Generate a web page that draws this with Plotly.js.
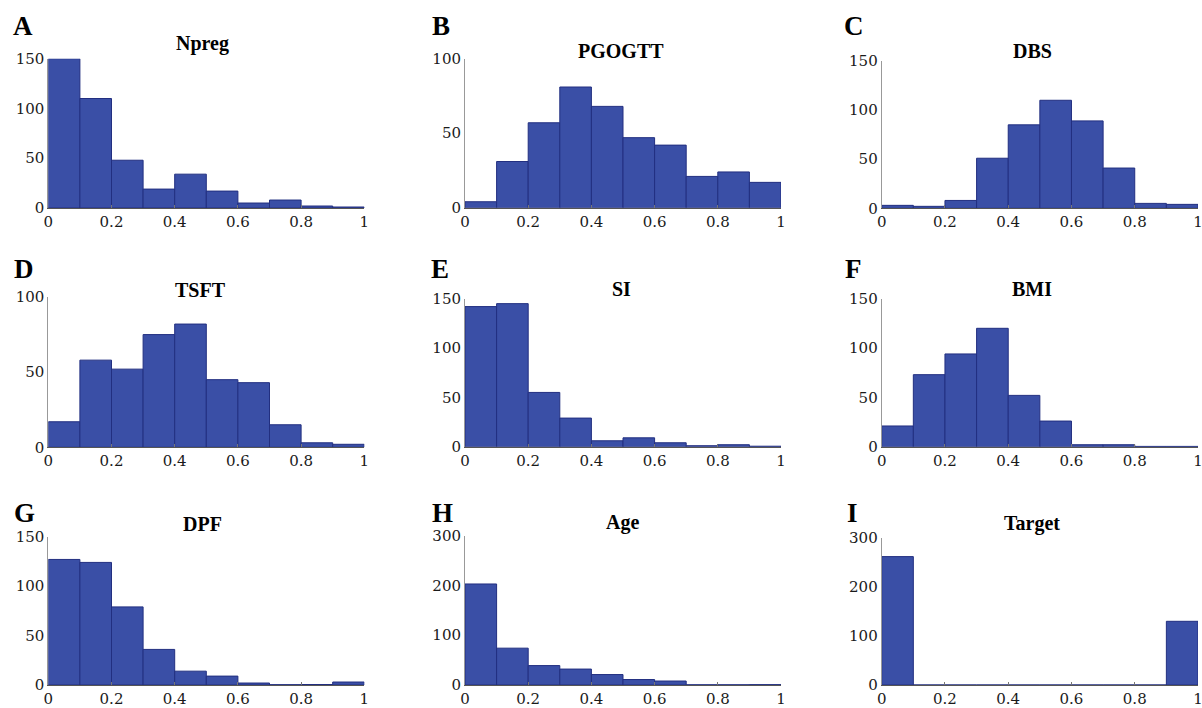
<!DOCTYPE html>
<html>
<head>
<meta charset="utf-8">
<script src="https://cdn.plot.ly/plotly-3.0.1.min.js"></script>
<style>html,body{margin:0;padding:0;background:#fff;}#chart{width:1202px;height:708px;}</style>
</head>
<body>
<div id="chart"></div>
<script>
// Bin centers (10 bins of width 0.1 on a normalised 0..1 scale)
const binCenters = [0.05, 0.15, 0.25, 0.35, 0.45, 0.55, 0.65, 0.75, 0.85, 0.95];
const xTickVals = [0, 0.2, 0.4, 0.6, 0.8, 1];
const xTickText = ["0", "0.2", "0.4", "0.6", "0.8", "1"];

const panelLetters = ["A", "B", "C", "D", "E", "F", "G", "H", "I"];
const panelTitles = ["Npreg", "PGOGTT", "DBS", "TSFT", "SI", "BMI", "DPF", "Age", "Target"];

const npreg  = [150, 110, 48, 19, 34, 17, 5, 8, 2, 1];
const pgogtt = [4, 31, 57, 81, 68, 47, 42, 21, 24, 17];
const dbs    = [3, 2, 8, 51, 85, 110, 89, 41, 5, 4];
const tsft   = [17, 58, 52, 75, 82, 45, 43, 15, 3, 2];
const si     = [142, 145, 55, 29, 6, 9, 4, 1, 2, 0.5];
const bmi    = [21, 73, 94, 120, 52, 26, 2, 2, 0.3, 0.3];
const dpf    = [127, 124, 79, 36, 14, 9, 2, 0.3, 0.5, 3];
const age    = [203, 74, 39, 32, 21, 11, 8, 0.3, 0.3, 0.7];
const target = [262, 0, 0, 0, 0, 0, 0, 0, 0, 130];

const yMax = [150, 100, 150, 100, 150, 150, 150, 300, 300];
const yTickVals = [[0,50,100,150],[0,50,100],[0,50,100,150],[0,50,100],[0,50,100,150],[0,50,100,150],[0,50,100,150],[0,100,200,300],[0,100,200,300]];

const series = [npreg, pgogtt, dbs, tsft, si, bmi, dpf, age, target];

// layout geometry in pixels
const W = 1202, H = 708;
const colX = [[48.3, 364.3], [465, 781], [881.7, 1198]];
const panelY = [[58.7,208],[58.7,207.7],[61,208.3],[297,447.3],[298.7,446.7],[298.7,446.7],[536.7,685],[535.7,685],[538,685]];
const letterPos = [[23,26],[441,26],[854,26],[24,269],[440,269],[853,269],[24,513],[442,513],[852,513]];
const titlePos = [[202,43],[621,51],[1032,51],[200,290],[621,289],[1032,289],[202,524],[622,522],[1032,523]];

const px = x => x / W;
const py = y => 1 - y / H;

const traces = [];
const layout = {
  width: W, height: H,
  margin: {l: 0, r: 0, t: 0, b: 0},
  paper_bgcolor: "#fff", plot_bgcolor: "#fff",
  showlegend: false,
  font: {family: "DejaVu Serif", size: 15, color: "#1a1a1a"},
  annotations: [],
  bargap: 0
};

series.forEach((vals, i) => {
  const c = i % 3;
  const n = i === 0 ? "" : String(i + 1);
  traces.push({
    type: "bar",
    x: binCenters,
    y: vals,
    width: 0.1,
    xaxis: "x" + n,
    yaxis: "y" + n,
    marker: {color: "#3a4fa6", line: {color: "#222f80", width: 1}},
    hoverinfo: "x+y"
  });
  layout["xaxis" + n] = {
    domain: [px(colX[c][0]), px(colX[c][1])],
    range: [0, 1],
    anchor: "y" + n,
    tickmode: "array",
    tickvals: xTickVals,
    ticktext: xTickText,
    ticks: "inside",
    ticklen: 3,
    tickcolor: "#777",
    ticklabeloverflow: "allow",
    showline: true,
    linecolor: "#555",
    linewidth: 1,
    showgrid: false,
    zeroline: false,
    fixedrange: true,
    tickfont: {family: "DejaVu Serif", size: 15, color: "#1a1a1a"}
  };
  layout["yaxis" + n] = {
    domain: [py(panelY[i][1]), py(panelY[i][0])],
    range: [0, yMax[i]],
    anchor: "x" + n,
    tickmode: "array",
    tickvals: yTickVals[i],
    ticks: "",
    showline: true,
    linecolor: "#999",
    linewidth: 1,
    showgrid: false,
    zeroline: false,
    fixedrange: true,
    tickfont: {family: "DejaVu Serif", size: 15, color: "#1a1a1a"}
  };
  layout.annotations.push({
    xref: "paper", yref: "paper",
    x: px(letterPos[i][0]), y: py(letterPos[i][1]),
    xanchor: "center", yanchor: "middle",
    text: "<b>" + panelLetters[i] + "</b>",
    showarrow: false,
    font: {family: "Liberation Serif", size: 27, color: "#000"}
  });
  layout.annotations.push({
    xref: "paper", yref: "paper",
    x: px(titlePos[i][0]), y: py(titlePos[i][1]),
    xanchor: "center", yanchor: "middle",
    text: "<b>" + panelTitles[i] + "</b>",
    showarrow: false,
    font: {family: "Liberation Serif", size: 20, color: "#000"}
  });
});

Plotly.newPlot("chart", traces, layout, {displayModeBar: false, staticPlot: true});
</script>
</body>
</html>
